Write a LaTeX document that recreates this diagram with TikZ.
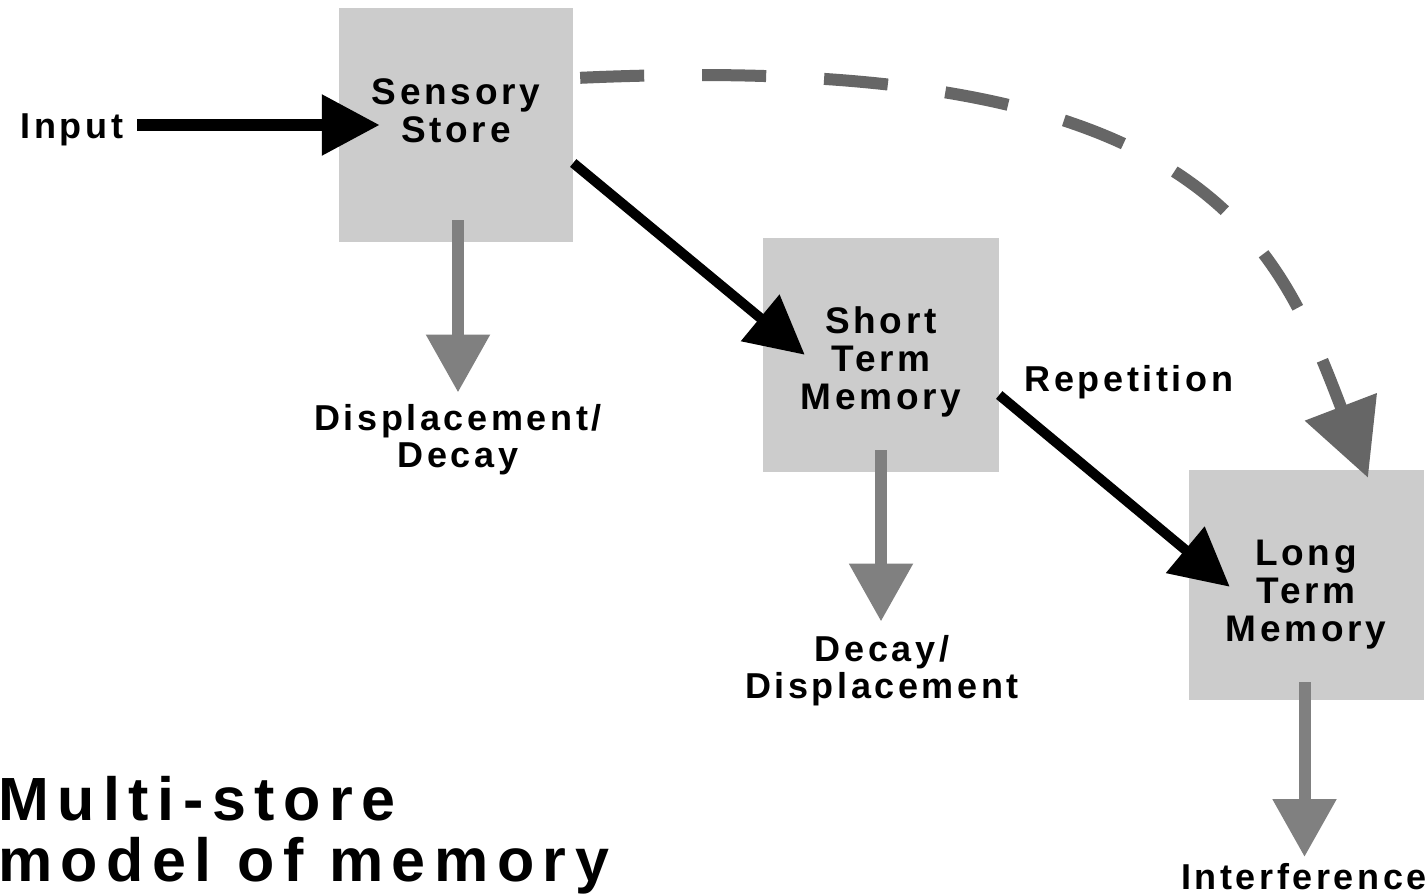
\documentclass[tikz,border=0pt]{standalone}
\usepackage{fontspec}
\setmainfont{Liberation Sans}
\newfontfamily\lblfont{Liberation Sans}[LetterSpace=10]
\newfontfamily\ttlfont{Liberation Sans}[LetterSpace=14]
\usetikzlibrary{arrows.meta,calc}
\definecolor{boxgray}{HTML}{CCCCCC}
\definecolor{arrgray}{HTML}{808080}
\definecolor{dashgray}{HTML}{666666}
\begin{document}
\begin{tikzpicture}[x=1pt,y=-1pt,
  storebox/.style={fill=boxgray, draw=none, minimum width=234pt, minimum height=234pt, inner sep=0pt},
  boxtext/.style={font=\lblfont\bfseries\fontsize{37}{38}\selectfont, align=center, inner sep=0pt},
  labeltext/.style={font=\lblfont\bfseries\fontsize{36}{37}\selectfont, align=center, inner sep=0pt},
  titletext/.style={font=\ttlfont\bfseries\fontsize{61}{61}\selectfont, align=left, inner sep=0pt},
  blackarrow/.style={line width=10pt, -{Triangle[length=58pt,width=58pt]}},
  inputarrow/.style={line width=12pt, -{Triangle[length=58pt,width=58pt]}},
  grayarrow/.style={draw=arrgray, line width=12pt, -{Triangle[length=58pt,width=61pt,fill=arrgray]}},
  dasharrow/.style={draw=dashgray, line width=12pt, dash pattern=on 64pt off 58pt, -{Triangle[length=76pt,width=74pt,fill=dashgray]}}
]
\useasboundingbox (0,0) rectangle (1428,895);
\fill[white] (0,0) rectangle (1428,895);

% boxes
\node[storebox] (ss) at (456,125) {};
\node[storebox, minimum width=236pt] (stm) at (881,355) {};
\node[storebox, minimum width=235pt, minimum height=230pt] (ltm) at (1306.5,585) {};

% box texts
\node[boxtext] (sst) at (456,111) {Sensory\\Store};
\node[boxtext] (stmt) at (881,362) {Short\\Term\\Memory};
\node[boxtext] (ltmt) at (1306,595) {Long\\Term\\Memory};

% labels
\node[labeltext] (inp) at (72,130) {Input};
\node[labeltext] (d1) at (458,440) {Displacement/\\Decay};
\node[labeltext] (d2) at (882,671) {Decay/\\Displacement};
\node[labeltext] (rep) at (1129,382) {Repetition};
\node[labeltext] (intf) at (1304,877) {Interference};
\node[titletext, anchor=north west] (title) at (-2,776) {Multi-store\\model of memory};

% coordinates
\coordinate (inpout) at ($(inp.east |- ss.west)+(14,0)$);
\coordinate (ssin) at ($(ss.west)+(41,0)$);
\coordinate (ssout) at ($(ss.east)+(0,38)$);
\coordinate (stmin) at ($(stm.north west)+(42,117)$);
\coordinate (stmout) at ($(stm.east)+(0,40)$);
\coordinate (ltmin) at ($(ltm.north west)+(41,117)$);
\coordinate (ssdash) at ($(ss.north east)+(7,70)$);
\coordinate (ltmdash) at ($(ltm.north)+(61.5,8)$);
\coordinate (ssdown) at ($(ss.south)+(2,-22)$);
\coordinate (stmdown) at ($(stm.south)+(0,-22)$);
\coordinate (ltmdown) at ($(ltm.south)+(-2,-18)$);
\coordinate (d1tip) at ($(d1.north)+(0,-12)$);
\coordinate (d2tip) at ($(d2.north)+(0,-14)$);
\coordinate (intftip) at (1304,857);

% connectors
\draw[inputarrow] (inpout) -- (ssin);
\draw[blackarrow] (ssout) -- (stmin);
\draw[blackarrow] (stmout) -- (ltmin);
\draw[grayarrow] (ssdown) -- (ssdown |- d1tip);
\draw[grayarrow] (stmdown) -- (stmdown |- d2tip);
\draw[grayarrow] (ltmdown) -- (ltmdown |- intftip);
\draw[dasharrow] (ssdash) .. controls (1200,50) and (1275,235) .. (ltmdash);
\end{tikzpicture}
\end{document}
